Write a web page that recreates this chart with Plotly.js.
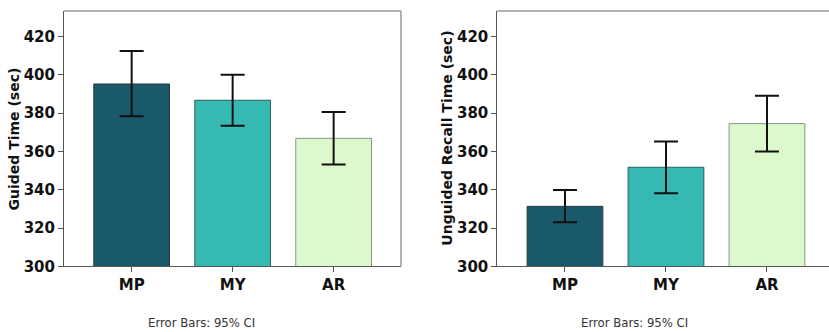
<!DOCTYPE html>
<html>
<head>
<meta charset="utf-8">
<script src="https://cdn.plot.ly/plotly-3.0.1.min.js"></script>
<style>html,body{margin:0;padding:0;background:#fff;}#chart{width:829px;height:332px;}</style>
</head>
<body>
<div id="chart"></div>
<script>
// Categories and values
const categories = ["MP", "MY", "AR"];
const guidedMean = [395.2, 386.7, 366.8];
const guidedUpper = [412.4, 400.0, 380.6];
const guidedLower = [378.3, 373.4, 353.1];
const recallMean = [331.3, 351.7, 374.5];
const recallUpper = [339.8, 365.1, 389.1];
const recallLower = [323.0, 338.1, 359.9];
const yTicks = [300, 320, 340, 360, 380, 400, 420];
const barColors = ["#1a586c", "#37b9b3", "#def8ce"];
const barLines = ["#2b3a3e", "#2a5f5c", "#7f9a80"];

function diff(a, b) { return a.map((v, i) => +(v - b[i]).toFixed(2)); }

const errStyle = {type: "data", symmetric: false, color: "#111", thickness: 2, width: 12};

const traces = [
  {
    type: "bar", x: categories, y: guidedMean, xaxis: "x", yaxis: "y",
    marker: {color: barColors, line: {color: barLines, width: 1}},
    width: 0.75,
    error_y: Object.assign({array: diff(guidedUpper, guidedMean), arrayminus: diff(guidedMean, guidedLower)}, errStyle),
    hoverinfo: "x+y"
  },
  {
    type: "bar", x: categories, y: recallMean, xaxis: "x2", yaxis: "y2",
    marker: {color: barColors, line: {color: barLines, width: 1}},
    width: 0.75,
    error_y: Object.assign({array: diff(recallUpper, recallMean), arrayminus: diff(recallMean, recallLower)}, errStyle),
    hoverinfo: "x+y"
  }
];

const W = 829, H = 332;
const tickFont = {family: "DejaVu Sans", size: 15, color: "#111", weight: "bold"};
const yDom = [(H - 266.3) / H, (H - 11) / H];
const yRange = [300, 433.3];

function yAxis(anchor) {
  return {
    domain: yDom, range: yRange, anchor: anchor,
    tickvals: yTicks, ticktext: yTicks.map(String),
    ticks: "outside", ticklen: 5, tickwidth: 1, tickcolor: "#555",
    showline: true, linecolor: "#555", linewidth: 1,
    showgrid: false, zeroline: false, tickfont: tickFont, fixedrange: true
  };
}
function xAxis(domain, range, anchor) {
  return {
    domain: domain, range: range, anchor: anchor, type: "category",
    ticks: "outside", ticklen: 5, tickwidth: 1, tickcolor: "#555",
    showline: true, linecolor: "#555", linewidth: 1,
    showgrid: false, zeroline: false, tickfont: tickFont, fixedrange: true
  };
}

const layout = {
  width: W, height: H,
  margin: {l: 0, r: 0, t: 0, b: 0},
  paper_bgcolor: "#fff", plot_bgcolor: "#fff",
  showlegend: false,
  xaxis: xAxis([64 / W, 401 / W], [-0.67, 2.667], "y"),
  yaxis: yAxis("x"),
  xaxis2: xAxis([497.3 / W, 1], [-0.67, 2.614], "y2"),
  yaxis2: yAxis("x2"),
  shapes: [
    {type: "line", xref: "paper", yref: "paper", x0: 64 / W, x1: 401 / W, y0: yDom[1], y1: yDom[1], line: {color: "#999", width: 1.5}},
    {type: "line", xref: "paper", yref: "paper", x0: 401 / W, x1: 401 / W, y0: yDom[0], y1: yDom[1], line: {color: "#999", width: 1.5}},
    {type: "line", xref: "paper", yref: "paper", x0: 497.3 / W, x1: 1, y0: yDom[1], y1: yDom[1], line: {color: "#999", width: 1.5}}
  ],
  annotations: [
    {text: "Guided Time (sec)", xref: "paper", yref: "paper", x: 13 / W, y: (H - 139.5) / H, textangle: -90, showarrow: false,
     xanchor: "center", yanchor: "middle", font: {family: "DejaVu Sans", size: 14, color: "#111", weight: "bold"}},
    {text: "Unguided Recall Time (sec)", xref: "paper", yref: "paper", x: 446.7 / W, y: (H - 138) / H, textangle: -90, showarrow: false,
     xanchor: "center", yanchor: "middle", font: {family: "DejaVu Sans", size: 14, color: "#111", weight: "bold"}},
    {text: "Error Bars: 95% CI", xref: "paper", yref: "paper", x: 201 / W, y: (H - 323) / H, showarrow: false,
     xanchor: "center", yanchor: "middle", font: {family: "DejaVu Sans", size: 11.7, color: "#333"}},
    {text: "Error Bars: 95% CI", xref: "paper", yref: "paper", x: 634 / W, y: (H - 323) / H, showarrow: false,
     xanchor: "center", yanchor: "middle", font: {family: "DejaVu Sans", size: 11.7, color: "#333"}}
  ]
};

Plotly.newPlot("chart", traces, layout, {displayModeBar: false, staticPlot: true});
</script>
</body>
</html>
